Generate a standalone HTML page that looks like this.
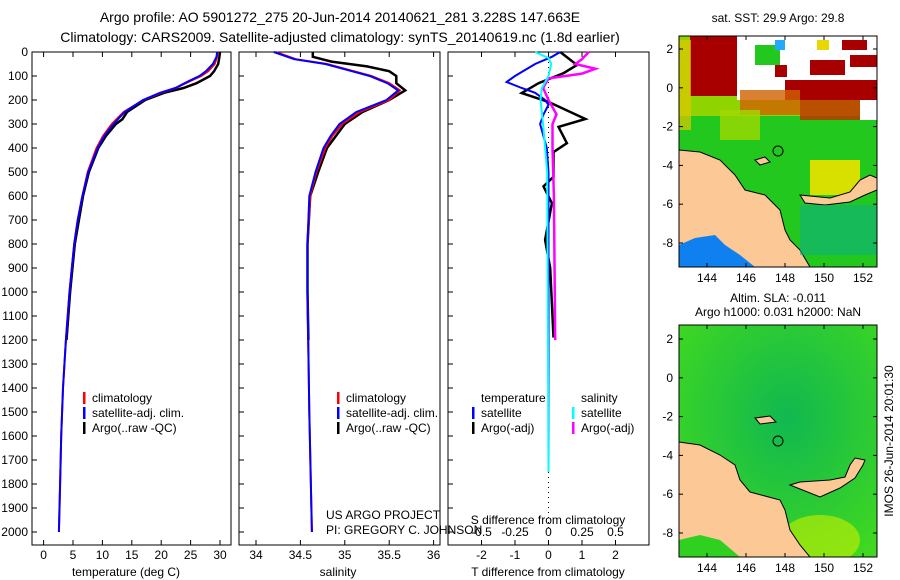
<!DOCTYPE html>
<html><head><meta charset="utf-8"><style>
body{margin:0;background:#fff;}
svg{display:block;font-family:"Liberation Sans",sans-serif;}
</style></head><body>
<svg id="fig" width="900" height="580" viewBox="0 0 900 580">
<g font-size="14" text-anchor="middle" fill="#000">
<text x="340" y="22">Argo profile: AO 5901272_275 20-Jun-2014 20140621_281 3.228S 147.663E</text>
<text x="340" y="42">Climatology: CARS2009. Satellite-adjusted climatology: synTS_20140619.nc (1.8d earlier)</text>
</g>
<g id="p1"></g>
<g id="p2"></g>
<g id="p3"></g>

<!-- SST map -->
<g>
<text x="778" y="22" font-size="12" text-anchor="middle">sat. SST: 29.9 Argo: 29.8</text>
<clipPath id="c1"><rect x="679" y="36" width="198" height="231"/></clipPath>
<g clip-path="url(#c1)">
<rect x="679" y="36" width="198" height="231" fill="#22c81e"/>
<rect x="679" y="36" width="198" height="80" fill="#8fd400"/>
<rect x="690" y="36" width="50" height="60" fill="#a80000"/>
<rect x="679" y="40" width="12" height="90" fill="#e0c800" opacity="0.7"/>
<rect x="737" y="36" width="140" height="64" fill="#fff"/>
<rect x="755" y="45" width="25" height="20" fill="#22c81e"/>
<rect x="775" y="40" width="10" height="10" fill="#22aaff"/>
<rect x="817" y="40" width="12" height="10" fill="#e8d800"/>
<rect x="842" y="40" width="25" height="10" fill="#a80000"/>
<rect x="810" y="60" width="35" height="15" fill="#a80000"/>
<rect x="850" y="55" width="27" height="12" fill="#a80000"/>
<rect x="775" y="65" width="12" height="12" fill="#a80000"/>
<rect x="785" y="80" width="92" height="20" fill="#a80000"/>
<rect x="740" y="90" width="60" height="25" fill="#d06000" opacity="0.8"/>
<rect x="800" y="100" width="60" height="20" fill="#c03000" opacity="0.8"/>
<rect x="860" y="100" width="17" height="20" fill="#fff"/>
<rect x="720" y="110" width="40" height="30" fill="#a0d800" opacity="0.8"/>
<rect x="810" y="160" width="50" height="35" fill="#d8e000"/>
<polygon points="679,150 700,152 720,160 735,175 745,190 765,195 780,210 785,230 790,240 800,250 810,267 679,267" fill="#fcc896" stroke="#000" stroke-width="1"/>
<polygon points="800,195 830,198 850,192 860,180 870,175 877,178 877,190 865,195 850,202 825,205 805,203" fill="#fcc896" stroke="#000" stroke-width="1"/>
<rect x="800" y="205" width="77" height="50" fill="#10b080" opacity="0.6"/>
<polygon points="679,267 679,245 695,238 715,235 725,245 740,255 755,267" fill="#1080f0"/>
<polygon points="755,160 765,157 770,162 760,165" fill="#fcc896" stroke="#000"/>
<circle cx="778" cy="151" r="5" fill="none" stroke="#000"/>
</g>
<rect x="679" y="36" width="198" height="231" fill="none" stroke="#000"/>
<g id="m1ax" font-size="12"></g>
</g>

<!-- SLA map -->
<g>
<text x="778" y="302" font-size="12" text-anchor="middle">Altim. SLA: -0.011</text>
<text x="778" y="316" font-size="12" text-anchor="middle">Argo h1000: 0.031 h2000: NaN</text>
<defs><radialGradient id="g2" cx="0.55" cy="0.4" r="0.7"><stop offset="0" stop-color="#10b850"/><stop offset="1" stop-color="#40d820"/></radialGradient></defs>
<clipPath id="c2"><rect x="679" y="325" width="198" height="232"/></clipPath>
<g clip-path="url(#c2)">
<rect x="679" y="325" width="198" height="232" fill="url(#g2)"/>
<ellipse cx="820" cy="540" rx="40" ry="25" fill="#c8f000" opacity="0.6"/>
<polygon points="679,442 700,445 720,455 735,465 740,480 750,492 780,500 785,510 790,530 800,545 810,557 679,557" fill="#fcc896" stroke="#000"/>
<polygon points="790,485 820,497 840,488 855,478 863,465 865,460 855,458 850,465 845,477 830,480 800,482" fill="#fcc896" stroke="#000"/>
<polygon points="679,557 679,540 700,535 720,540 740,557" fill="#30d020"/>
<polygon points="755,418 770,416 776,422 760,424" fill="#fcc896" stroke="#000"/>
<circle cx="778" cy="441" r="5" fill="none" stroke="#000"/>
</g>
<rect x="679" y="325" width="198" height="232" fill="none" stroke="#000"/>
<g id="m2ax" font-size="12"></g>
<text transform="translate(893,441) rotate(-90)" font-size="12" text-anchor="middle">IMOS 26-Jun-2014 20:01:30</text>
</g>
</svg>
<script>
// ---- data ----
const tempDepth = [0,20,50,80,100,120,150,170,200,250,300,350,400,500,600,700,800,1000,1200,1400,1600,1800,2000];
const tempClim  = [29.6,29.5,29.1,28,26.8,25,22.5,20,17,13.6,11.6,10.1,9,7.5,6.6,5.8,5.2,4.4,3.8,3.3,3.0,2.8,2.6];
const tempSat   = [29.5,29.4,28.8,27.6,26.5,24.8,22.4,19.8,16.9,13.8,11.9,10.3,9.2,7.6,6.6,5.8,5.2,4.4,3.8,3.3,3.0,2.8,2.6];
const argoTDepth= [0,20,50,80,100,130,150,170,200,250,280,300,350,400,500,600,800,1000,1200];
const argoTemp  = [30,29.9,29.7,29,28.3,26,23.8,20.5,17.3,14.2,13.4,12.3,10.6,9.3,7.7,6.7,5.3,4.5,3.9];
const salDepth  = [0,30,50,80,100,130,160,200,250,300,350,400,500,600,800,1000,1500,2000];
const salClim   = [34.22,34.45,34.8,35.1,35.3,35.5,35.62,35.5,35.17,34.97,34.86,34.78,34.68,34.61,34.58,34.58,34.6,34.63];
const salSat    = [34.2,34.43,34.78,35.08,35.28,35.48,35.6,35.47,35.13,34.94,34.84,34.76,34.67,34.6,34.58,34.58,34.6,34.63];
const argoSDepth= [0,20,40,60,80,100,130,160,200,250,300,400,500,600,800,1000,1200];
const argoSal   = [34.64,34.64,34.85,35.25,35.5,35.58,35.58,35.68,35.5,35.2,35.0,34.8,34.7,34.61,34.58,34.58,34.59];
const dTSatDepth= [0,20,50,100,125,150,170,200,220,260,300,400,500,1000,1750];
const dTSat     = [0.35,0.1,-0.4,-1.0,-1.25,-0.8,-0.4,-0.1,0,-0.15,-0.25,-0.05,0,0,0];
const dTArgoDepth=[0,54,88,130,171,208,279,312,380,417,520,560,630,783,900,1190];
const dTArgo    = [0.35,0.85,0.45,-0.3,-0.8,0,1.1,0.3,0.55,0.15,0.15,-0.15,0.1,-0.1,0.05,0.15];
const dSSatDepth= [0,25,50,100,150,200,300,500,1750];
const dSSat     = [-0.1,0,0.02,0,-0.05,-0.06,-0.04,-0.01,0];
const dSArgoDepth=[0,30,50,70,90,110,150,200,260,300,400,600,1200];
const dSArgo    = [0.3,0.25,0.2,0.35,0.25,0,-0.04,0,0.06,0.03,0.03,0.04,0.05];
const depthTicks= [0,100,200,300,400,500,600,700,800,900,1000,1100,1200,1300,1400,1500,1600,1700,1800,1900,2000];
const tempTicks = [0,5,10,15,20,25,30];
const salTicks  = [34,34.5,35,35.5,36];
const dTTicks   = [-2,-1,0,1,2];
const dSTicks   = [-0.5,-0.25,0,0.25,0.5];
const lonTicks  = [144,146,148,150,152];
const latTicks  = [2,0,-2,-4,-6,-8];

const NS='http://www.w3.org/2000/svg';
function mk(tag,attrs,parent,txt){const e=document.createElementNS(NS,tag);for(const k in attrs)e.setAttribute(k,attrs[k]);if(txt!==undefined)e.textContent=txt;parent.appendChild(e);return e;}
const yD=d=>52+d*0.24;
const PT=52, PB=545;
function frame(g,x0,x1){
  const r=mk('rect',{x:x0,y:PT,width:x1-x0,height:PB-PT,fill:'none',stroke:'#000'},g);
  
  
}
function line(g,ds,vs,fx,color,w,name){
  const p=mk('polyline',{points:ds.map((d,i)=>fx(vs[i]).toFixed(1)+','+yD(d).toFixed(1)).join(' '),fill:'none',stroke:color,'stroke-width':w},g);
  
  
}
function xticks(g,ticks,fx,y,lbl){
  ticks.forEach(t=>{const x=fx(t);mk('line',{x1:x,x2:x,y1:PB,y2:PB-5,stroke:'#000'},g);mk('line',{x1:x,x2:x,y1:PT,y2:PT+5,stroke:'#000'},g);
    const tx=mk('text',{x:x,y:y,'font-size':12,'text-anchor':'middle'},g,lbl?lbl(t):String(t));
    
    });
}
function legend(g,x,y,items){
  items.forEach((it,i)=>{mk('rect',{x:x,y:y+i*15-10,width:2.5,height:12,fill:it[1]},g);
    const t=mk('text',{x:x+9,y:y+i*15,'font-size':12},g,it[0]);
    
    });
}
// panel 1
const g1=document.getElementById('p1');
const fT=t=>43.6+t*5.88;
frame(g1,32,231);
depthTicks.forEach(d=>{const y=yD(d);mk('line',{x1:32,x2:37,y1:y,y2:y,stroke:'#000'},g1);
  const t=mk('text',{x:28,y:y+4,'font-size':12,'text-anchor':'end'},g1,String(d));
  
  });
xticks(g1,tempTicks,fT,559);
mk('text',{x:126,y:576,'font-size':12,'text-anchor':'middle'},g1,'temperature (deg C)');
line(g1,argoTDepth,argoTemp,fT,'#000',2.5,'argo-temperature-line');
line(g1,tempDepth,tempClim,fT,'#f00',2,'climatology-temperature-line');
line(g1,tempDepth,tempSat,fT,'#00f',2,'satellite-temperature-line');
legend(g1,83,402,[['climatology','#f00'],['satellite-adj. clim.','#00f'],['Argo(..raw -QC)','#000']]);
// panel 2
const g2=document.getElementById('p2');
const fS=s=>256+(s-34)*88.8;
frame(g2,239,440);
depthTicks.forEach(d=>{const y=yD(d);mk('line',{x1:239,x2:244,y1:y,y2:y,stroke:'#000'},g2);});
xticks(g2,salTicks,fS,559);
mk('text',{x:338,y:576,'font-size':12,'text-anchor':'middle'},g2,'salinity');
line(g2,argoSDepth,argoSal,fS,'#000',2.5,'argo-salinity-line');
line(g2,salDepth,salClim,fS,'#f00',2,'climatology-salinity-line');
line(g2,salDepth,salSat,fS,'#00f',2,'satellite-salinity-line');
legend(g2,337,402,[['climatology','#f00'],['satellite-adj. clim.','#00f'],['Argo(..raw -QC)','#000']]);
mk('text',{x:326,y:519,'font-size':12},g2,'US ARGO PROJECT');
mk('text',{x:326,y:534,'font-size':12},g2,'PI: GREGORY C. JOHNSON');
// panel 3
const g3=document.getElementById('p3');
const fDT=t=>548.5+t*33.5, fDS=s=>548.5+s*134;
frame(g3,448,649);
depthTicks.forEach(d=>{const y=yD(d);mk('line',{x1:448,x2:453,y1:y,y2:y,stroke:'#000'},g3);});
xticks(g3,dTTicks,fDT,559);
dSTicks.forEach(s=>{const t=mk('text',{x:fDS(s),y:536,'font-size':12,'text-anchor':'middle'},g3,String(s));
  
  });
mk('text',{x:548,y:524,'font-size':12,'text-anchor':'middle'},g3,'S difference from climatology');
mk('text',{x:548,y:576,'font-size':12,'text-anchor':'middle'},g3,'T difference from climatology');
mk('line',{x1:548.5,x2:548.5,y1:52,y2:532,stroke:'#000','stroke-dasharray':'1,4'},g3);
line(g3,dTArgoDepth,dTArgo,fDT,'#000',2.5,'argo-temperature-difference-line');
line(g3,dSArgoDepth,dSArgo,fDS,'#f0f',2.5,'argo-salinity-difference-line');
line(g3,dTSatDepth,dTSat,fDT,'#00f',2,'satellite-temperature-difference-line');
line(g3,dSSatDepth,dSSat,fDS,'#0ff',2,'satellite-salinity-difference-line');
mk('text',{x:481,y:402,'font-size':12},g3,'temperature');
mk('text',{x:581,y:402,'font-size':12},g3,'salinity');
legend(g3,472,417,[['satellite','#00f'],['Argo(-adj)','#000']]);
legend(g3,572,417,[['satellite','#0ff'],['Argo(-adj)','#f0f']]);
// map axes
function mapAx(id,top,bot,lat2y){
  const g=document.getElementById(id);
  lonTicks.forEach(l=>{const x=707+(l-144)*19.5;mk('line',{x1:x,x2:x,y1:bot,y2:bot-4,stroke:'#000'},g);mk('line',{x1:x,x2:x,y1:top,y2:top+4,stroke:'#000'},g);
    mk('text',{x:x,y:bot+15,'text-anchor':'middle'},g,String(l));});
  latTicks.forEach(l=>{const y=lat2y+(2-l)*19.4;mk('line',{x1:679,x2:683,y1:y,y2:y,stroke:'#000'},g);mk('line',{x1:877,x2:873,y1:y,y2:y,stroke:'#000'},g);
    mk('text',{x:673,y:y+4,'text-anchor':'end'},g,String(l));});
}
mapAx('m1ax',36,267,49);
mapAx('m2ax',325,557,339);
</script>
</body></html>
